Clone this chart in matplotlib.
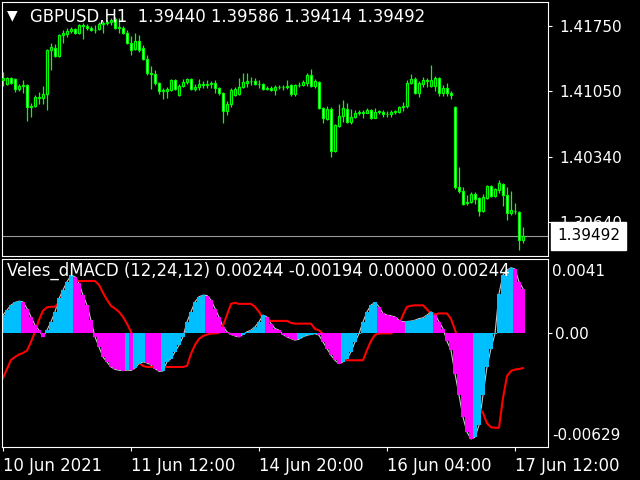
import matplotlib
matplotlib.use("Agg")
import matplotlib.pyplot as plt
import numpy as np
from matplotlib.transforms import blended_transform_factory

# ---------------- data (GBPUSD H1, bars from 10 Jun 2021 04:00) ----------------
symbol = "GBPUSD,H1"
open_ = [
    1.41168, 1.41125, 1.41190, 1.41179, 1.41071, 1.41104, 1.41115, 1.40878, 1.40888, 1.40975,
    1.40975, 1.41018, 1.41492, 1.41513, 1.41427, 1.41653, 1.41664, 1.41696, 1.41718, 1.41675,
    1.41761, 1.41750, 1.41728, 1.41707, 1.41718, 1.41772, 1.41782, 1.41793, 1.41825, 1.41728,
    1.41728, 1.41675, 1.41567, 1.41502, 1.41588, 1.41513, 1.41395, 1.41244, 1.41233, 1.41136,
    1.41050, 1.41050, 1.41061, 1.41168, 1.41007, 1.41104, 1.41147, 1.41179, 1.41071, 1.41093,
    1.41125, 1.41115, 1.41125, 1.41136, 1.41082, 1.41028, 1.40835, 1.40910, 1.41007, 1.41018,
    1.41093, 1.41136, 1.41158, 1.41158, 1.41125, 1.41125, 1.41071, 1.41082, 1.41061, 1.41093,
    1.41088, 1.41093, 1.41115, 1.41018, 1.41115, 1.41115, 1.41136, 1.41222, 1.41104, 1.41147,
    1.40867, 1.40748, 1.40856, 1.40404, 1.40673, 1.40781, 1.40856, 1.40716, 1.40770, 1.40813,
    1.40824, 1.40818, 1.40845, 1.40759, 1.40824, 1.40824, 1.40802, 1.40802, 1.40824, 1.40824,
    1.40878, 1.40888, 1.41136, 1.41179, 1.41028, 1.41125, 1.41168, 1.41104, 1.41104, 1.41190,
    1.41028, 1.41082, 1.41028, 1.40878, 1.40016, 1.39973, 1.39844, 1.39855, 1.39941, 1.39898,
    1.39757, 1.39898, 1.40027, 1.39919, 1.39984, 1.40048, 1.39930, 1.39736, 1.39757, 1.39747,
    1.39440,
]
high = [
    1.41255, 1.41201, 1.41201, 1.41190, 1.41125, 1.41168, 1.41125, 1.40921, 1.41007, 1.41039,
    1.41104, 1.41502, 1.41567, 1.41556, 1.41664, 1.41707, 1.41728, 1.41739, 1.41728, 1.41772,
    1.41782, 1.41772, 1.41750, 1.41761, 1.41793, 1.41804, 1.41815, 1.41836, 1.41847, 1.41836,
    1.41750, 1.41707, 1.41642, 1.41675, 1.41653, 1.41545, 1.41438, 1.41319, 1.41276, 1.41147,
    1.41082, 1.41093, 1.41179, 1.41179, 1.41125, 1.41179, 1.41190, 1.41190, 1.41125, 1.41179,
    1.41158, 1.41168, 1.41158, 1.41168, 1.41093, 1.41039, 1.40942, 1.41082, 1.41093, 1.41190,
    1.41244, 1.41244, 1.41201, 1.41190, 1.41168, 1.41136, 1.41104, 1.41104, 1.41115, 1.41115,
    1.41115, 1.41168, 1.41125, 1.41125, 1.41147, 1.41168, 1.41244, 1.41287, 1.41179, 1.41158,
    1.40878, 1.40888, 1.40878, 1.40695, 1.40910, 1.40953, 1.40921, 1.40856, 1.40845, 1.40845,
    1.40845, 1.40867, 1.40856, 1.40867, 1.40845, 1.40845, 1.40835, 1.40845, 1.40845, 1.40888,
    1.40931, 1.41168, 1.41233, 1.41201, 1.41158, 1.41201, 1.41190, 1.41330, 1.41212, 1.41201,
    1.41115, 1.41136, 1.41050, 1.40888, 1.40231, 1.40016, 1.39930, 1.39962, 1.39962, 1.39908,
    1.39941, 1.40038, 1.40038, 1.40005, 1.40091, 1.40059, 1.40016, 1.39973, 1.39844, 1.39757,
    1.39586,
]
low = [
    1.41104, 1.41115, 1.41125, 1.41039, 1.41050, 1.41028, 1.40727, 1.40770, 1.40878, 1.40910,
    1.40910, 1.40845, 1.41276, 1.41416, 1.41416, 1.41567, 1.41632, 1.41675, 1.41664, 1.41664,
    1.41610, 1.41707, 1.41696, 1.41675, 1.41707, 1.41675, 1.41761, 1.41761, 1.41718, 1.41675,
    1.41664, 1.41556, 1.41438, 1.41492, 1.41470, 1.41384, 1.41222, 1.41071, 1.41115, 1.41018,
    1.40964, 1.40975, 1.41050, 1.41061, 1.40996, 1.41093, 1.41125, 1.41061, 1.41050, 1.41061,
    1.41082, 1.41082, 1.41082, 1.41028, 1.41007, 1.40705, 1.40791, 1.40878, 1.40996, 1.41007,
    1.41082, 1.41093, 1.41115, 1.41115, 1.41082, 1.41061, 1.41061, 1.41050, 1.41007, 1.41071,
    1.41061, 1.41071, 1.40996, 1.40996, 1.41093, 1.41104, 1.41104, 1.41093, 1.41082, 1.40856,
    1.40705, 1.40738, 1.40339, 1.40393, 1.40662, 1.40716, 1.40705, 1.40695, 1.40759, 1.40791,
    1.40759, 1.40813, 1.40748, 1.40754, 1.40802, 1.40770, 1.40770, 1.40770, 1.40802, 1.40813,
    1.40835, 1.40867, 1.41125, 1.41018, 1.40985, 1.41093, 1.41093, 1.41093, 1.41050, 1.40996,
    1.40996, 1.40996, 1.40964, 1.39994, 1.39951, 1.39822, 1.39822, 1.39844, 1.39833, 1.39703,
    1.39747, 1.39887, 1.39908, 1.39908, 1.39951, 1.39811, 1.39661, 1.39714, 1.39725, 1.39338,
    1.39414,
]
close = [
    1.41190, 1.41190, 1.41136, 1.41071, 1.41104, 1.41115, 1.40878, 1.40888, 1.40985, 1.40985,
    1.41018, 1.41492, 1.41524, 1.41427, 1.41653, 1.41675, 1.41696, 1.41718, 1.41675, 1.41761,
    1.41750, 1.41728, 1.41707, 1.41702, 1.41772, 1.41782, 1.41793, 1.41815, 1.41728, 1.41739,
    1.41675, 1.41567, 1.41492, 1.41588, 1.41492, 1.41395, 1.41244, 1.41233, 1.41136, 1.41050,
    1.41061, 1.41071, 1.41168, 1.41071, 1.41104, 1.41147, 1.41179, 1.41071, 1.41093, 1.41125,
    1.41115, 1.41125, 1.41136, 1.41082, 1.41028, 1.40835, 1.40910, 1.41061, 1.41071, 1.41093,
    1.41147, 1.41158, 1.41152, 1.41125, 1.41120, 1.41071, 1.41082, 1.41061, 1.41093, 1.41088,
    1.41093, 1.41104, 1.41018, 1.41115, 1.41110, 1.41147, 1.41222, 1.41104, 1.41158, 1.40867,
    1.40759, 1.40856, 1.40404, 1.40684, 1.40781, 1.40867, 1.40716, 1.40770, 1.40813, 1.40824,
    1.40818, 1.40845, 1.40759, 1.40824, 1.40829, 1.40802, 1.40807, 1.40824, 1.40829, 1.40878,
    1.40888, 1.41136, 1.41179, 1.41028, 1.41136, 1.41168, 1.41158, 1.41168, 1.41190, 1.41028,
    1.41082, 1.41028, 1.41007, 1.40016, 1.39973, 1.39833, 1.39855, 1.39941, 1.39887, 1.39757,
    1.39908, 1.40027, 1.39919, 1.39994, 1.40059, 1.39930, 1.39736, 1.39768, 1.39762, 1.39445,
    1.39492,
]

price_ticks = [1.41750, 1.41050, 1.40340, 1.39640]
time_tick_bars = [0, 32, 64, 96, 128]
time_tick_labels = ["10 Jun 2021", "11 Jun 12:00", "14 Jun 20:00", "16 Jun 04:00", "17 Jun 12:00"]

indicator_name = "Veles_dMACD"
indicator_params = [12, 24, 12]
dmacd_hist = [
    0.00098, 0.00126, 0.00153, 0.00168, 0.00175, 0.00171, 0.00134, 0.00088, 0.00043, 0.00015,
    -0.00022, 0.00015, 0.00061, 0.00116, 0.00190, 0.00236, 0.00282, 0.00317, 0.00310, 0.00273,
    0.00208, 0.00153, 0.00070, -0.00022, -0.00077, -0.00133, -0.00160, -0.00188, -0.00201, -0.00206,
    -0.00208, -0.00205, -0.00207, -0.00194, -0.00169, -0.00160, -0.00166, -0.00177, -0.00197, -0.00212,
    -0.00210, -0.00160, -0.00142, -0.00105, -0.00068, -0.00022, 0.00061, 0.00116, 0.00171, 0.00199,
    0.00208, 0.00206, 0.00181, 0.00134, 0.00088, 0.00033, 0.00006, -0.00009, -0.00017, -0.00022,
    -0.00009, 0.00006, 0.00015, 0.00033, 0.00061, 0.00098, 0.00088, 0.00051, 0.00024, 0.00015,
    -0.00009, -0.00022, -0.00032, -0.00040, -0.00035, -0.00022, -0.00013, -0.00009, -0.00004, -0.00013,
    -0.00050, -0.00087, -0.00123, -0.00151, -0.00170, -0.00160, -0.00142, -0.00105, -0.00050, -0.00004,
    0.00061, 0.00116, 0.00153, 0.00168, 0.00144, 0.00107, 0.00098, 0.00094, 0.00088, 0.00070,
    0.00061, 0.00063, 0.00065, 0.00070, 0.00079, 0.00083, 0.00098, 0.00116, 0.00101, 0.00061,
    0.00024, -0.00046, -0.00096, -0.00225, -0.00343, -0.00465, -0.00547, -0.00585, -0.00575, -0.00509,
    -0.00343, -0.00188, -0.00087, -0.00004, 0.00216, 0.00319, 0.00347, 0.00359, 0.00352, 0.00282,
    0.00244,
]
dmacd_signal = [
    -0.00249, -0.00199, -0.00149, -0.00133, -0.00119, -0.00111, -0.00097, -0.00050, 0.00006, 0.00072,
    0.00122, 0.00141, 0.00144, 0.00144, 0.00166, 0.00210, 0.00249, 0.00277, 0.00286, 0.00286,
    0.00286, 0.00286, 0.00286, 0.00286, 0.00265, 0.00221, 0.00182, 0.00149, 0.00134, 0.00116,
    0.00088, 0.00050, 0.00006, -0.00083, -0.00166, -0.00182, -0.00188, -0.00188, -0.00188, -0.00188,
    -0.00188, -0.00188, -0.00188, -0.00188, -0.00188, -0.00188, -0.00182, -0.00116, -0.00066, -0.00033,
    -0.00017, -0.00009, -0.00004, -0.00003, 0.00000, 0.00039, 0.00100, 0.00160, 0.00166, 0.00160,
    0.00160, 0.00160, 0.00160, 0.00144, 0.00116, 0.00080, 0.00070, 0.00066, 0.00066, 0.00066,
    0.00066, 0.00066, 0.00055, 0.00051, 0.00051, 0.00051, 0.00051, 0.00051, 0.00022, 0.00014,
    -0.00006, -0.00044, -0.00088, -0.00122, -0.00144, -0.00151, -0.00151, -0.00151, -0.00151, -0.00151,
    -0.00151, -0.00094, -0.00044, -0.00011, -0.00004, -0.00003, -0.00003, -0.00003, 0.00011, 0.00044,
    0.00100, 0.00144, 0.00149, 0.00152, 0.00152, 0.00152, 0.00130, 0.00105, 0.00102, 0.00107,
    0.00107, 0.00107, 0.00077, 0.00017, -0.00055, -0.00138, -0.00221, -0.00304, -0.00365, -0.00409,
    -0.00442, -0.00498, -0.00520, -0.00523, -0.00523, -0.00359, -0.00238, -0.00210, -0.00202, -0.00199,
    -0.00194,
]
dmacd_extra = 0.00000
dmacd_scale = [0.0041, -0.00629]

# ---------------- figure ----------------
W, H = 640, 480
fig = plt.figure(figsize=(W / 100, H / 100), dpi=100, facecolor="black")
plt.rcParams["font.family"] = ["DejaVu Sans"]
FS_AX = 11      # price-scale labels
FS_TXT = 11.9   # titles and time labels


def frac(l, t, r, b):
    return [l / W, 1 - b / H, (r - l) / W, (b - t) / H]


ax = fig.add_axes(frac(2, 2, 548, 256))
ax2 = fig.add_axes(frac(2, 258.5, 548, 447))

n = len(close)
x = np.arange(n)
o = np.array(open_); c = np.array(close); h = np.array(high); l = np.array(low)

for a in (ax, ax2):
    a.set_facecolor("black")
    a.set_xlim(-0.25, 136.25)
    for s in a.spines.values():
        s.set_color("white")
        s.set_linewidth(0.8)

# ---- candles ----
lime = "#00FF00"
ax.vlines(x, l, h, colors=lime, linewidth=0.9, zorder=2)
up = c >= o
body_bot = np.minimum(o, c)
body_h = np.maximum(np.abs(c - o), 0.000015)
ax.bar(x, body_h, bottom=body_bot, width=0.5,
       color=np.where(up, "black", "white"), edgecolor=lime, linewidth=0.9, zorder=3)
ax.axhline(c[-1], color="#9a9a9a", linewidth=0.8, zorder=1)

ax.set_ylim(1.39273, 1.42008)
ax.yaxis.tick_right()
ax.set_yticks(price_ticks)
ax.set_yticklabels([f"{v:.5f}" for v in price_ticks])
ax.tick_params(axis="y", colors="white", length=3, width=0.8, pad=5, labelsize=FS_AX)
ax.set_xticks([])

btrans = blended_transform_factory(ax.transAxes, ax.transData)
ax.text(1 + 9 / 546, c[-1], f"{c[-1]:.5f}", transform=btrans, ha="left", va="center",
        color="black", fontsize=FS_AX, clip_on=False, zorder=10,
        bbox=dict(boxstyle="square,pad=0.42", fc="white", ec="white"))

fig.text(12.5 / W, 1 - 15.5 / H, "\u25BC", color="white", fontsize=10, ha="center", va="center")
fig.text(30 / W, 1 - 16.5 / H,
         f"{symbol}  {o[-1]:.5f} {h[-1]:.5f} {l[-1]:.5f} {c[-1]:.5f}",
         color="white", fontsize=FS_TXT, ha="left", va="center")

# ---- indicator ----
hist = np.array(dmacd_hist)
sig = np.array(dmacd_signal)
rising = np.concatenate([[True], hist[1:] >= hist[:-1]])
cols = np.where(rising, "#00BFFF", "#FF00FF")
ax2.plot(x, hist, color="#C8C8C8", linewidth=0.8, zorder=1)
ax2.plot(x, sig, color="#FF0000", linewidth=1.5, zorder=1.5)
ax2.bar(x, hist, width=1.0, color=cols, linewidth=0, antialiased=False, zorder=2)
ax2.set_ylim(dmacd_scale[1], dmacd_scale[0])

ax2.yaxis.tick_right()
ax2.set_yticks([0.0])
ax2.set_yticklabels(["0.00"])
ax2.tick_params(axis="y", colors="white", length=3, width=0.8, pad=2, labelsize=FS_AX)
ax2.text(1 + 4 / 546, 1 - 13 / 188.5, f"{dmacd_scale[0]:.4f}", transform=ax2.transAxes,
         color="white", fontsize=FS_AX, ha="left", va="center", clip_on=False)
ax2.text(1 + 4 / 546, 12 / 188.5, f"{dmacd_scale[1]:.5f}", transform=ax2.transAxes,
         color="white", fontsize=FS_AX, ha="left", va="center", clip_on=False)
p = ",".join(str(v) for v in indicator_params)
ax2.text(5 / 546, 1 - 12 / 188.5,
         f"{indicator_name} ({p}) {hist[-1]:.5f} {sig[-1]:.5f} {dmacd_extra:.5f} {hist[-1]:.5f}",
         transform=ax2.transAxes, color="white", fontsize=FS_TXT, ha="left", va="center", zorder=10)

ax2.set_xticks(time_tick_bars)
ax2.set_xticklabels(time_tick_labels)
for lbl in ax2.get_xticklabels():
    lbl.set_ha("left")
ax2.tick_params(axis="x", colors="white", length=3, width=0.8, pad=4, labelsize=FS_TXT)

fig.savefig("out.png", dpi=100, facecolor="black")
